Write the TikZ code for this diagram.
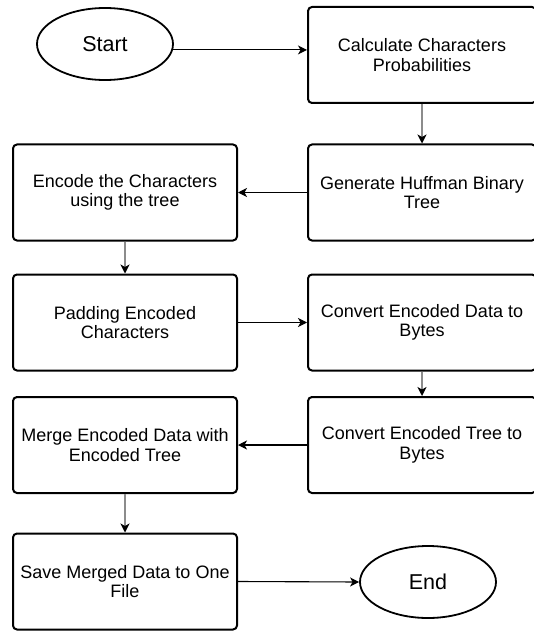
\documentclass[tikz,border=0pt]{standalone}
\usepackage{fontspec}
\setmainfont{Liberation Sans}
\usetikzlibrary{shapes.geometric,arrows.meta}

\newcommand{\boxfont}{\fontsize{18}{19.6}\selectfont}
\newcommand{\termfont}{\fontsize{21.5}{24}\selectfont}

\tikzset{
  proc/.style={draw=black, line width=2pt, rounded corners=4pt,
    minimum width=224pt, minimum height=96pt, inner sep=0pt,
    align=center, font=\boxfont, text=black},
  procr/.style={proc, minimum width=228pt},
  term/.style={draw=black, ellipse, line width=1.8pt, inner sep=0pt,
    minimum width=136pt, minimum height=72pt, font=\termfont},
  link/.style={line width=1.1pt, draw=black,
    -{Stealth[length=9pt,width=9pt,inset=2.5pt]}},
  vlink/.style={line width=1.4pt, draw=gray!90,
    -{Stealth[length=9pt,width=9pt,inset=2.5pt,black]}}
}

\begin{document}
\begin{tikzpicture}[x=1pt,y=-1pt]
  \useasboundingbox (0,0) rectangle (533,631);

  % terminals
  \node[term] (start) at (105,44) {Start};
  \node[term] (end) at (428,582) {End};

  % process steps, right column
  \node[procr] (calc)  at (422,55)    {Calculate Characters\\Probabilities};
  \node[procr] (huff)  at (422,192.5) {Generate Huffman Binary\\Tree};
  \node[procr] (cdata) at (422,322.5) {Convert Encoded Data to\\Bytes};
  \node[procr] (ctree) at (422,445)   {Convert Encoded Tree to\\Bytes};

  % process steps, left column
  \node[proc] (encode) at (125,192.5) {Encode the Characters\\using the tree};
  \node[proc] (pad)    at (125,322.5) {Padding Encoded\\Characters};
  \node[proc] (merge)  at (125,445)   {Merge Encoded Data with\\Encoded Tree};
  \node[proc] (save)   at (125,581.5) {Save Merged Data to One\\File};

  % flow
  \draw[link]  (start.-5) -- (start.-5 -| calc.west);
  \draw[vlink] (calc.south) -- (huff.north);
  \draw[link]  (huff.west) -- (encode.east);
  \draw[vlink] (encode.south) -- (pad.north);
  \draw[link]  (pad.east) -- (cdata.west);
  \draw[vlink] (cdata.south) -- (ctree.north);
  \draw[link]  (ctree.west) -- (merge.east);
  \draw[vlink] (merge.south) -- (save.north);
  \draw[link]  (save.east) -- (end.west);
\end{tikzpicture}
\end{document}
